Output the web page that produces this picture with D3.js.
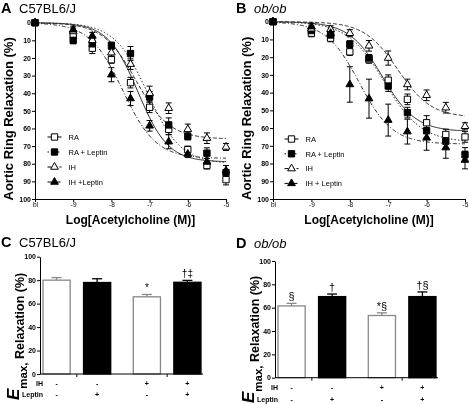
<!DOCTYPE html>
<html><head><meta charset="utf-8">
<script src="https://cdn.jsdelivr.net/npm/d3@7/dist/d3.min.js"></script>
<style>body{margin:0;background:#fff} svg{will-change:transform} svg text{font-family:Arial,"Liberation Sans",sans-serif}</style>
</head><body><svg id="c" width="469" height="404"></svg>
<script>
// ---------- DATA ----------
const doses = [-10, -9, -8.5, -8, -7.5, -7, -6.5, -6, -5.5, -5]; // -10 = baseline "bl"
const xTickVals = [-10, -9, -8, -7, -6, -5];
const xTickLabels = ["bl", "-9", "-8", "-7", "-6", "-5"];
const yTicksCurve = [0, 10, 20, 30, 40, 50, 60, 70, 80, 90, 100];
const legendA = ["RA", "RA + Leptin", "IH", "IH +Leptin"];
const legendB = ["RA", "RA + Leptin", "IH", "IH + Leptin"];

// Panel A (C57BL6/J) mean relaxation (%)
const aRA   = [0, 7, 14.5, 21, 34, 48, 60.5, 72, 81, 89];
const aRAL  = [0, 10, 12, 13, 17.5, 42, 58, 64.5, 74, 85];
const aIH   = [0, 5, 10, 17, 23.5, 40, 48.5, 60.5, 65.5, 70.5];
const aIHL  = [0, 4, 7.5, 29.5, 43, 58.5, 67.5, 74.5, 79, 84];
const aRAe  = [0, 2, 3, 2, 3, 3, 3, 2, 2, 3];
const aRALe = [0, 2, 3, 2, 4, 3, 4, 2, 3, 4];
const aIHe  = [0, 2, 2, 2, 3, 4, 3, 3, 3, 2];
const aIHLe = [0, 2, 2, 4, 4, 3, 4, 2, 2, 3];
// fitted sigmoid parameters [bottom, logEC50, hill]
const aFitRA  = [79, -7.3, 1.1];
const aFitRAL = [80, -7.05, 1.0];
const aFitIH  = [66, -7.35, 1.0];
const aFitIHL = [77, -7.7, 1.0];

// Panel B (ob/ob)
const bRA   = [0, 6.5, 9.3, 17, 21.4, 33, 43.8, 57, 63.6, 65];
const bRAL  = [0, 5, 7.5, 12.7, 20.5, 36.3, 51.3, 61.5, 67.4, 75];
const bIH   = [0, 4, 4.3, 6.5, 13.6, 20.5, 35.4, 41.5, 48.5, 59];
const bIHL  = [0, 2.8, 6.5, 35.4, 43.4, 55.5, 62, 65.5, 71, 78];
const bRAe  = [0, 2, 2, 2, 2, 3, 3, 4, 3, 3];
const bRALe = [0, 2, 2, 2, 2, 3, 3, 4, 4, 4];
const bIHe  = [0, 2, 2, 2, 3, 4, 3, 3, 3, 2];
const bIHLe = [0, 2, 3, 10, 11, 9, 7, 7, 6, 5];
const bFitRA  = [62, -7.15, 1.0];
const bFitRAL = [68, -7.1, 0.9];
const bFitIH  = [54, -6.75, 1.0];
const bFitIHL = [69, -7.75, 1.0];

// Panels C & D (Emax)
const ihRow = ["-", "-", "+", "+"];
const leptinRow = ["-", "+", "-", "+"];
const cMeans = [80, 78, 65.8, 78.2];
const cErr = [2.2, 3.2, 2, 1.6];
const cMarks = ["", "", "*", "\u2020\u2021"];
const dMeans = [61.5, 69.5, 53.3, 69.5];
const dErr = [2.2, 2.2, 2.3, 4];
const dMarks = ["\u00a7", "\u2020", "*\u00a7", "\u2020\u00a7"];
const yTicksBar = [0, 20, 40, 60, 80, 100];

// ---------- DRAW ----------
const svg = d3.select("#c");
const FONT = 'Arial,"Liberation Sans",sans-serif';
const styles = [
  {dash: null, fill: "#fff", sym: d3.symbolSquare, size: 40},
  {dash: "1.5,2", fill: "#000", sym: d3.symbolSquare, size: 40},
  {dash: "4,2", fill: "#fff", sym: d3.symbolTriangle, size: 26},
  {dash: "4,2,1,2", fill: "#000", sym: d3.symbolTriangle, size: 26}
];

function styleAxis(g, size, bold) {
  g.attr("font-family", FONT).attr("font-size", size).attr("font-weight", bold ? "bold" : "normal");
  g.selectAll("path,line").attr("stroke", "#000");
}

function curvePanel(o) {
  const x = d3.scaleLinear().domain([-10, -5]).range([o.x0, o.x1]);
  const y = d3.scaleLinear().domain([0, 100]).range([o.y0, o.y1]);
  const g = svg.append("g");
  const ya = g.append("g").attr("transform", `translate(${o.x0},0)`)
    .call(d3.axisLeft(y).tickValues(yTicksCurve).tickSize(3).tickPadding(1).tickSizeOuter(0));
  styleAxis(ya, 7, true);
  const xa = g.append("g").attr("transform", `translate(0,${o.y1})`)
    .call(d3.axisBottom(x).tickValues(xTickVals).tickSize(3).tickPadding(0).tickSizeOuter(0)
      .tickFormat((d, i) => xTickLabels[i]));
  styleAxis(xa, 6.5, false);
  // curves
  const xs = d3.range(-10, -4.995, 0.02);
  o.fits.forEach((f, i) => {
    const line = d3.line().x(d => x(d)).y(d => y(f[0] / (1 + Math.pow(10, (f[1] - d) * f[2]))));
    g.append("path").attr("d", line(xs)).attr("fill", "none").attr("stroke", "#222")
      .attr("stroke-width", 1).attr("stroke-dasharray", styles[i].dash);
  });
  // error bars
  o.series.forEach((s, i) => {
    s.forEach((v, j) => {
      const e = o.errs[i][j];
      if (!e) return;
      const cx = x(doses[j]);
      g.append("line").attr("x1", cx).attr("x2", cx).attr("y1", y(v - e)).attr("y2", y(v + e)).attr("stroke", "#000");
      [v - e, v + e].forEach(t => g.append("line").attr("x1", cx - 3).attr("x2", cx + 3)
        .attr("y1", y(t)).attr("y2", y(t)).attr("stroke", "#000"));
    });
  });
  // markers
  o.series.forEach((s, i) => {
    const st = styles[i];
    g.selectAll(null).data(s).enter().append("path")
      .attr("d", d3.symbol().type(st.sym).size(st.size))
      .attr("transform", (v, j) => `translate(${x(doses[j])},${y(v)})`)
      .attr("fill", st.fill).attr("stroke", "#000").attr("stroke-width", 1);
  });
  // legend
  o.legend.forEach((name, i) => {
    const st = styles[i];
    const ly = o.ly0 + i * o.lstep;
    g.append("line").attr("x1", o.lx - 7).attr("x2", o.lx + 7).attr("y1", ly).attr("y2", ly)
      .attr("stroke", "#000").attr("stroke-dasharray", st.dash);
    g.append("path").attr("d", d3.symbol().type(st.sym).size(st.size))
      .attr("transform", `translate(${o.lx},${ly})`).attr("fill", st.fill).attr("stroke", "#000");
    g.append("text").attr("x", o.lx + 14).attr("y", ly + 2.7).attr("font-size", 7.5).attr("fill", "#000").text(name);
  });
  // axis titles
  g.append("text").attr("transform", `translate(${o.ylx},${(o.y0 + o.y1) / 2 + 8}) rotate(-90)`)
    .attr("text-anchor", "middle").attr("font-size", 13).attr("font-weight", "bold")
    .text("Aortic Ring Relaxation (%)");
  g.append("text").attr("x", (o.x0 + o.x1) / 2).attr("y", o.y1 + 25).attr("text-anchor", "middle")
    .attr("font-size", 12).attr("font-weight", "bold").text("Log[Acetylcholine (M)]");
}

function barPanel(o) {
  const outer = d3.scaleBand().domain(["-", "+"]).range([o.bx0, o.bx1]).paddingInner(0.25);
  const inner = d3.scaleBand().domain(["-", "+"]).range([0, outer.bandwidth()]).paddingInner(0.33);
  const y = d3.scaleLinear().domain([0, 100]).range([o.y0, o.y1]);
  const g = svg.append("g");
  const bx = i => outer(ihRow[i]) + inner(leptinRow[i]);
  const bw = inner.bandwidth();
  // bars
  o.means.forEach((m, i) => {
    const black = leptinRow[i] === "+";
    const col = black ? "#000" : "#888";
    g.append("rect").attr("x", bx(i)).attr("y", y(m)).attr("width", bw).attr("height", y(0) - y(m))
      .attr("fill", black ? "#000" : "#fff").attr("stroke", col).attr("stroke-width", 1.3);
    const cx = bx(i) + bw / 2;
    g.append("line").attr("x1", cx).attr("x2", cx).attr("y1", y(m)).attr("y2", y(m + o.errs[i])).attr("stroke", col).attr("stroke-width", 1.3);
    g.append("line").attr("x1", cx - 5).attr("x2", cx + 5).attr("y1", y(m + o.errs[i])).attr("y2", y(m + o.errs[i])).attr("stroke", col).attr("stroke-width", 1.3);
    if (o.marks[i]) {
      g.append("text").attr("x", cx).attr("y", y(m + o.errs[i]) - 3).attr("text-anchor", "middle")
        .attr("font-family", o.markFont).attr("font-size", o.markSize).text(o.marks[i]);
    }
  });
  const ya = g.append("g").attr("transform", `translate(${o.ax},0)`)
    .call(d3.axisLeft(y).tickValues(yTicksBar).tickSize(3).tickPadding(1).tickSizeOuter(0));
  styleAxis(ya, 7, true);
  g.append("line").attr("x1", o.ax).attr("x2", o.axEnd).attr("y1", y(0)).attr("y2", y(0)).attr("stroke", "#000");
  ["-", "+"].forEach(k => {
    const tx = outer(k) + outer.bandwidth() / 2;
    g.append("line").attr("x1", tx).attr("x2", tx).attr("y1", y(0)).attr("y2", y(0) + 3).attr("stroke", "#000");
  });
  // rows
  [[ "IH", ihRow, o.r1], ["Leptin", leptinRow, o.r2]].forEach(([lab, row, ry]) => {
    g.append("text").attr("x", o.ax + 3).attr("y", ry).attr("text-anchor", "end").attr("font-size", 7)
      .attr("font-weight", "bold").text(lab);
    row.forEach((s, i) => g.append("text").attr("x", bx(i) + bw / 2).attr("y", ry).attr("text-anchor", "middle")
      .attr("font-size", 7).attr("font-weight", "bold").text(s));
  });
  // y label
  const t = g.append("text").attr("transform", `translate(${o.ylx},${o.yly}) rotate(-90)`)
    .attr("font-size", 12.5).attr("font-weight", "bold");
  t.append("tspan").attr("font-style", "italic").attr("font-size", 17).attr("dy", -5).text("E");
  t.append("tspan").attr("font-size", 11.5).attr("dy", 8).text("max");
  t.append("tspan").attr("font-size", 11.5).text(",");
  t.append("tspan").attr("dy", -3).text(" Relaxation (%)");
}

function title(x, y, letter, label, italic) {
  svg.append("text").attr("x", x).attr("y", y).attr("font-size", 14.5).attr("font-weight", "bold").text(letter);
  svg.append("text").attr("x", x + 18).attr("y", y).attr("font-size", 13)
    .attr("font-style", italic ? "italic" : "normal").text(label);
}

curvePanel({x0: 35, x1: 226, y0: 22.7, y1: 199,
  series: [aRA, aRAL, aIH, aIHL], errs: [aRAe, aRALe, aIHe, aIHLe],
  fits: [aFitRA, aFitRAL, aFitIH, aFitIHL], legend: legendA,
  lx: 54.5, ly0: 137, lstep: 15, ylx: 12.5});
curvePanel({x0: 273, x1: 465, y0: 21.7, y1: 199,
  series: [bRA, bRAL, bIH, bIHL], errs: [bRAe, bRALe, bIHe, bIHLe],
  fits: [bFitRA, bFitRAL, bFitIH, bFitIHL], legend: legendB,
  lx: 291.5, ly0: 139, lstep: 14.8, ylx: 250.5});

barPanel({bx0: 43, bx1: 201, ax: 40, axEnd: 203, y0: 374, y1: 256.7,
  means: cMeans, errs: cErr, marks: cMarks, markFont: FONT, markSize: 10,
  r1: 386, r2: 397, ylx: 24, yly: 400});
barPanel({bx0: 278, bx1: 436, ax: 275, axEnd: 438, y0: 377.7, y1: 261,
  means: dMeans, errs: dErr, marks: dMarks, markFont: '"Liberation Serif","DejaVu Serif",serif', markSize: 11,
  r1: 390, r2: 401.5, ylx: 259, yly: 403});

title(1, 13, "A", "C57BL6/J", false);
title(236, 13, "B", "ob/ob", true);
title(1, 247, "C", "C57BL6/J", false);
title(236, 248, "D", "ob/ob", true);
</script></body></html>
